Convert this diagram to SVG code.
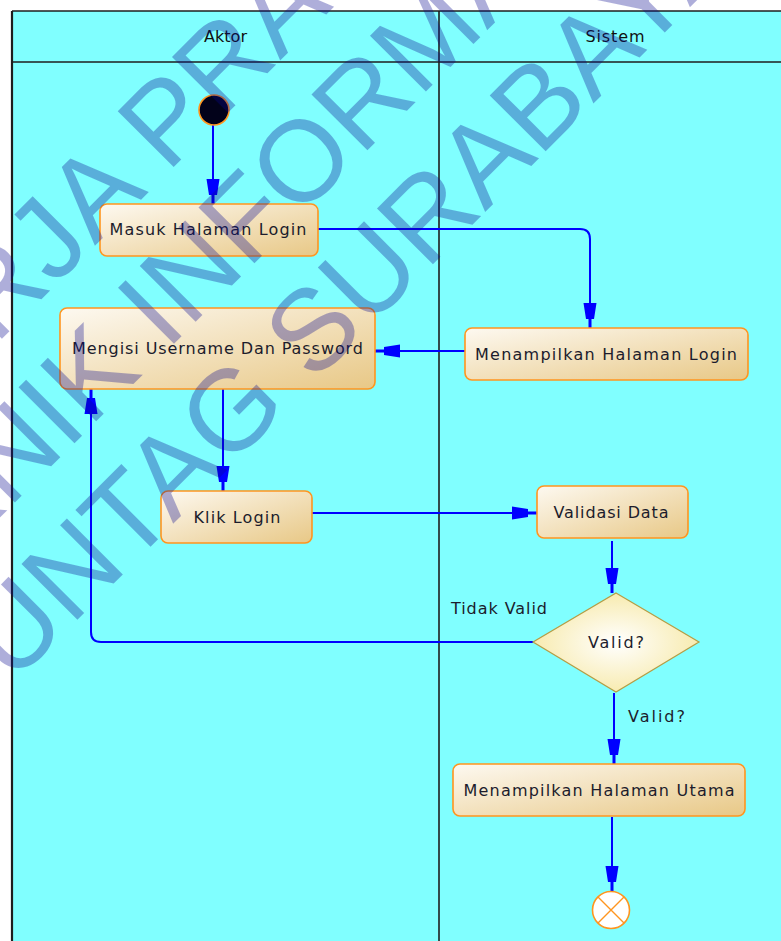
<svg xmlns="http://www.w3.org/2000/svg" width="781" height="941" viewBox="0 0 781 941">
<defs>
<linearGradient id="boxg" x1="0" y1="0" x2="1" y2="1">
<stop offset="0" stop-color="#fdf9f1"/>
<stop offset="1" stop-color="#e8c886"/>
</linearGradient>
<radialGradient id="dg" cx="0.5" cy="0.5" r="0.6">
<stop offset="0" stop-color="#ffffff"/>
<stop offset="1" stop-color="#f6e7a0"/>
</radialGradient>
<marker id="arr" markerUnits="userSpaceOnUse" markerWidth="30" markerHeight="16" viewBox="-28 -8 30 16" refX="0" refY="0" orient="auto">
<path d="M0,-1.5 H-9 V-4 L-25,-6.5 V6.5 L-9,4 V1.5 H0 Z" fill="#0000ff"/>
</marker>
</defs>
<style>
.lane{fill:none;stroke:#1e1e1e;stroke-width:1.6}
.hdr{font-family:"DejaVu Sans",Verdana,sans-serif;font-size:16px;fill:#111;text-anchor:middle}
.box{fill:url(#boxg);stroke:#ff951f;stroke-width:1.6}
.lbl{font-family:"DejaVu Sans",Verdana,sans-serif;font-size:16px;fill:#1c1c2c;text-anchor:middle}
.lbs{font-family:"DejaVu Sans",Verdana,sans-serif;font-size:16px;fill:#1c1c2c}
.con{fill:none;stroke:#0000ff;stroke-width:2;marker-end:url(#arr)}
.wm{font-family:"Liberation Sans",Arial,sans-serif;font-size:115px;fill:#0a0a90;fill-opacity:0.33}
</style>
<rect x="0" y="0" width="781" height="941" fill="#ffffff"/>
<g id="swimlanes">
<rect x="12" y="11" width="790" height="940" fill="#80ffff"/>
<line class="lane" x1="12" y1="11" x2="781" y2="11"/>
<line class="lane" x1="12" y1="62" x2="781" y2="62"/>
<line class="lane" x1="12" y1="11" x2="12" y2="941" style="stroke-width:2.2"/>
<line class="lane" x1="439" y1="11" x2="439" y2="941"/>
<text class="hdr" x="225.5" y="42" textLength="43" lengthAdjust="spacingAndGlyphs">Aktor</text>
<text class="hdr" x="615" y="42" textLength="59" lengthAdjust="spacing">Sistem</text>
</g>
<g id="connectors">
<path class="con" d="M213,125 V204"/>
<path class="con" d="M318,229 H580 Q590,229 590,239 V328"/>
<path class="con" d="M465,351 H375"/>
<path class="con" d="M223,389 V491"/>
<path class="con" d="M312,513 H537"/>
<path class="con" d="M612,541 V593"/>
<path class="con" d="M533,642 H101 Q91,642 91,632 V389"/>
<path class="con" d="M614,693 V764"/>
<path class="con" d="M612,817 V891"/>
<text class="lbs" x="451" y="614" textLength="96" lengthAdjust="spacing">Tidak Valid</text>
<text class="lbs" x="628" y="722" textLength="57" lengthAdjust="spacing">Valid?</text>
</g>
<g id="start">
<circle cx="214" cy="110" r="15" fill="#02021a" stroke="#ff951f" stroke-width="1.6"/>
</g>
<g id="masuk">
<rect class="box" x="100" y="204" width="218" height="52" rx="7"/>
<text class="lbl" x="208" y="235" textLength="197" lengthAdjust="spacing">Masuk Halaman Login</text>
</g>
<g id="mengisi">
<rect class="box" x="60" y="308" width="315" height="81" rx="7"/>
<text class="lbl" x="217.5" y="354" textLength="291" lengthAdjust="spacing">Mengisi Username Dan Password</text>
</g>
<g id="tampil-login">
<rect class="box" x="465" y="328" width="283" height="52" rx="7"/>
<text class="lbl" x="606" y="360" textLength="262" lengthAdjust="spacing">Menampilkan Halaman Login</text>
</g>
<g id="klik">
<rect class="box" x="161" y="491" width="151" height="52" rx="7"/>
<text class="lbl" x="237" y="523" textLength="87" lengthAdjust="spacing">Klik Login</text>
</g>
<g id="validasi">
<rect class="box" x="537" y="486" width="151" height="52" rx="7"/>
<text class="lbl" x="611" y="518" textLength="115" lengthAdjust="spacing">Validasi Data</text>
</g>
<g id="decision">
<polygon points="616,593 699,642 616,692 533,642" fill="url(#dg)" stroke="#b59d45" stroke-width="1.2"/>
<text class="lbl" x="616" y="648" textLength="56" lengthAdjust="spacing">Valid?</text>
</g>
<g id="tampil-utama">
<rect class="box" x="453" y="764" width="292" height="52" rx="7"/>
<text class="lbl" x="599" y="796" textLength="271" lengthAdjust="spacing">Menampilkan Halaman Utama</text>
</g>
<g id="end">
<circle cx="611" cy="910" r="18.5" fill="#ffffff" stroke="#ff951f" stroke-width="1.6"/>
<path d="M598,897 L624,923 M624,897 L598,923" stroke="#ff951f" stroke-width="1.4"/>
</g>
<g id="watermark" transform="rotate(-45)">
<text class="wm" x="-401" y="241">KERJA PRAKTIK</text>
<text class="wm" x="-578" y="366">TEKNIK INFORMATIKA</text>
<text class="wm" x="-476" y="493">UNTAG SURABAYA</text>
</g>
</svg>
